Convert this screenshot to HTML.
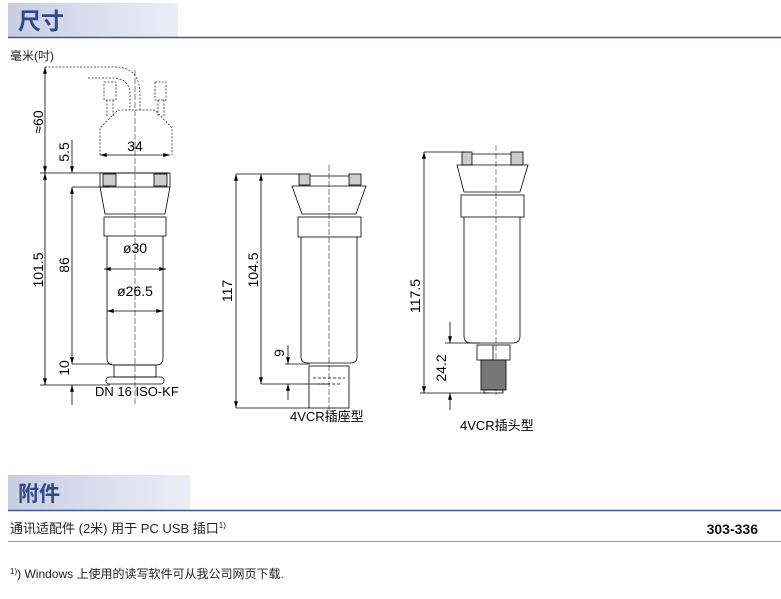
<!DOCTYPE html>
<html><head><meta charset="utf-8"><style>
body{margin:0;width:781px;height:599px;background:#fff;overflow:hidden;font-family:"Liberation Sans","Noto Sans CJK SC",sans-serif}
svg{position:absolute;left:0;top:0}
</style></head><body>
<svg width="781" height="599" viewBox="0 0 781 599" font-family="Liberation Sans, Noto Sans CJK SC, sans-serif">
<defs>
<linearGradient id="hg" x1="0" x2="1"><stop offset="0" stop-color="#c9cde3"/><stop offset="1" stop-color="#eceef6"/></linearGradient>
<marker id="a" viewBox="0 0 12 10" refX="12" refY="5" markerWidth="9" markerHeight="7" orient="auto-start-reverse"><path d="M0,1.5 L12,5 L0,8.5z" fill="#000"/></marker>
</defs>
<rect x="8" y="3" width="170" height="34" fill="url(#hg)"/>
<text x="18" y="29" font-size="23" font-weight="bold" fill="#2d4a86">尺寸</text>
<line x1="8" y1="37.5" x2="781" y2="37.5" stroke="#3c5a8c" stroke-width="1.5"/>
<text x="10" y="60" font-size="12" fill="#222">毫米(吋)</text>

<g stroke="#000" stroke-width="0.8" fill="none">
<g stroke-dasharray="2,1.5" stroke="#333">
<path d="M45 67 H115 Q140 67 140 95 V110"/>
<path d="M88 78 H112 Q130 78 130 95 V110"/>
<rect x="104" y="82" width="12" height="18"/><rect x="155" y="82" width="11" height="18"/>
<path d="M107 100 V116 M113 100 V116 M158 100 V116 M164 100 V116"/>
<path d="M100 155 V128 L118 110 H155 L172 128 V155"/>
</g>
<line x1="135" y1="70" x2="135" y2="405" stroke-dasharray="6,2" stroke-width="0.5"/>
<rect x="100" y="173" width="70" height="14"/>
<rect x="103" y="174" width="13" height="12" fill="#ccc"/><rect x="154" y="174" width="13" height="12" fill="#ccc"/>
<path d="M100 187 L105 214 H165 L170 187"/>
<rect x="104" y="217" width="62" height="19"/>
<path d="M107 236 V358 Q107 365 114 365 H156 Q163 365 163 358 V236"/>
<rect x="114" y="365" width="42" height="12"/>
<rect x="106" y="377" width="58" height="7" rx="3"/>
<line x1="100" y1="155" x2="170" y2="155" marker-start="url(#a)" marker-end="url(#a)"/>
<line x1="104" y1="269" x2="166" y2="269" marker-start="url(#a)" marker-end="url(#a)"/>
<line x1="107" y1="311" x2="163" y2="311" marker-start="url(#a)" marker-end="url(#a)"/>
<path d="M45 67 V385" marker-start="url(#a)"/>
<path d="M45 165 V173" marker-end="url(#a)"/><path d="M45 181 V173" marker-end="url(#a)"/>
<path d="M45 377 V385" marker-end="url(#a)"/>
<path d="M72 140 V173" marker-end="url(#a)"/><path d="M72 187 V364" marker-start="url(#a)" marker-end="url(#a)"/>
<path d="M72 385 V405" marker-start="url(#a)"/>
<path d="M40 173 H170 M72 187 H110 M72 364 H112 M40 385 H110"/>

<line x1="329" y1="165" x2="329" y2="412" stroke-dasharray="6,2" stroke-width="0.5"/>
<rect x="299" y="174" width="11" height="11" fill="#ccc"/><rect x="349" y="174" width="12" height="11" fill="#ccc"/>
<path d="M310 176 H349"/>
<path d="M292 186 H366 L356 214 H302 Z"/>
<rect x="298" y="217" width="63" height="20"/>
<path d="M301 237 V357 Q301 363 308 363 H350 Q357 363 357 357 V237"/>
<rect x="309" y="366" width="40" height="42"/>
<path d="M313 378 H345 M317 384 H341" stroke-dasharray="3,2"/>
<path d="M236 174 V408" marker-start="url(#a)" marker-end="url(#a)"/>
<path d="M261 174 V384" marker-start="url(#a)" marker-end="url(#a)"/>
<path d="M288 345 V364" marker-end="url(#a)"/><path d="M288 384 V400" marker-start="url(#a)"/>
<path d="M236 174 H300 M261 384 H330 M285 364 H310 M236 408 H310"/>

<line x1="496" y1="145" x2="496" y2="395" stroke-dasharray="6,2" stroke-width="0.5"/>
<rect x="462" y="152" width="10" height="13" fill="#ccc"/><rect x="511" y="152" width="12" height="13" fill="#ccc"/>
<path d="M472 154 H511"/>
<path d="M457 165 H528 L520 192 H464 Z"/>
<rect x="461" y="195" width="63" height="22"/>
<path d="M464 217 V336 Q464 343 471 343 H513 Q520 343 520 336 V217"/>
<rect x="477" y="345" width="33" height="15"/>
<line x1="493" y1="345" x2="493" y2="360"/>
<rect x="481" y="360" width="25" height="30" fill="#777"/>
<rect x="484" y="390" width="19" height="3"/>
<path d="M424 152 V393" marker-start="url(#a)" marker-end="url(#a)"/>
<path d="M450 322 V343" marker-end="url(#a)"/><path d="M450 393 V410" marker-start="url(#a)"/>
<path d="M424 152 H465 M445 343 H480 M420 393 H490"/>
</g>

<g font-size="14" fill="#000">
<text transform="translate(43,122) rotate(-90)" text-anchor="middle">≈60</text>
<text transform="translate(69,152) rotate(-90)" text-anchor="middle">5.5</text>
<text transform="translate(43,270) rotate(-90)" text-anchor="middle">101.5</text>
<text transform="translate(69,265) rotate(-90)" text-anchor="middle">86</text>
<text transform="translate(69,368) rotate(-90)" text-anchor="middle">10</text>
<text x="135" y="151" text-anchor="middle">34</text>
<text x="135" y="253" text-anchor="middle">ø30</text>
<text x="135" y="296" text-anchor="middle">ø26.5</text>
<text x="95" y="396" font-size="13">DN 16 ISO-KF</text>
<text transform="translate(232,291) rotate(-90)" text-anchor="middle">117</text>
<text transform="translate(258,270) rotate(-90)" text-anchor="middle">104.5</text>
<text transform="translate(284,353) rotate(-90)" text-anchor="middle">9</text>
<text x="290" y="421" font-size="13">4VCR插座型</text>
<text transform="translate(420,296) rotate(-90)" text-anchor="middle">117.5</text>
<text transform="translate(446,368) rotate(-90)" text-anchor="middle">24.2</text>
<text x="460" y="430" font-size="13">4VCR插头型</text>
</g>

<rect x="8" y="475" width="182" height="35" fill="url(#hg)"/>
<text x="18" y="501" font-size="21" font-weight="bold" fill="#2d4a86">附件</text>
<line x1="8" y1="510.5" x2="781" y2="510.5" stroke="#3c5a8c" stroke-width="1.5"/>
<text x="10" y="533" font-size="13" fill="#222">通讯适配件 (2米) 用于 PC USB 插口<tspan font-size="8" dy="-5">1)</tspan></text>
<text x="758" y="534" font-size="14" font-weight="bold" text-anchor="end" fill="#111">303-336</text>
<line x1="8" y1="541.5" x2="781" y2="541.5" stroke="#999" stroke-width="1"/>
<text x="10" y="578" font-size="12" fill="#222"><tspan font-size="8" dy="-4">1)</tspan><tspan dy="4">) Windows 上使用的读写软件可从我公司网页下载.</tspan></text>
</svg>
</body></html>
